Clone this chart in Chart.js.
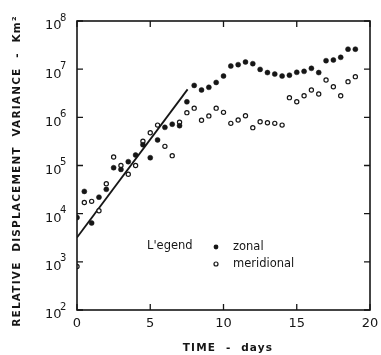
<!DOCTYPE html>
<html>
<head>
<meta charset="utf-8">
<script src="https://cdn.jsdelivr.net/npm/chart.js@4.4.1/dist/chart.umd.min.js"></script>
<style>
  html, body { margin: 0; padding: 0; background: #fff; }
  #wrap { width: 381px; height: 355px; position: relative; }
</style>
</head>
<body>
<div id="wrap"><canvas id="c" width="381" height="355"></canvas></div>
<script>
// Time in days and relative displacement variance (km^2)
const zonalDays = [0, 0.5, 1.0, 1.5, 2.0, 2.5, 3.0, 3.5, 4.0, 4.5, 5.0, 5.5, 6.0, 6.5, 7.0, 7.5,
  8.0, 8.5, 9.0, 9.5, 10.0, 10.5, 11.0, 11.5, 12.0, 12.5, 13.0, 13.5, 14.0, 14.5, 15.0, 15.5,
  16.0, 16.5, 17.0, 17.5, 18.0, 18.5, 19.0];
const zonalVariance = [8300, 29000, 6400, 22000, 32000, 90000, 83000, 120000, 165000, 270000,
  145000, 340000, 620000, 720000, 670000, 2.1e6, 4.6e6, 3.7e6, 4.2e6, 5.3e6, 7.2e6, 1.16e7,
  1.24e7, 1.41e7, 1.3e7, 9.9e6, 8.5e6, 7.9e6, 7.2e6, 7.5e6, 8.6e6, 9.0e6, 1.04e7, 8.5e6,
  1.5e7, 1.55e7, 1.76e7, 2.6e7, 2.6e7];

const meridionalDays = [0, 0.5, 1.0, 1.5, 2.0, 2.5, 3.0, 3.5, 4.0, 4.5, 5.0, 5.5, 6.0, 6.5, 7.0, 7.5,
  8.0, 8.5, 9.0, 9.5, 10.0, 10.5, 11.0, 11.5, 12.0, 12.5, 13.0, 13.5, 14.0, 14.5, 15.0, 15.5,
  16.0, 16.5, 17.0, 17.5, 18.0, 18.5, 19.0];
const meridionalVariance = [800, 17000, 18000, 11500, 42000, 150000, 100000, 66000, 100000, 320000,
  480000, 690000, 250000, 160000, 790000, 1.25e6, 1.55e6, 8.7e5, 1.07e6, 1.55e6, 1.27e6, 7.5e5,
  8.8e5, 1.08e6, 6.1e5, 8.1e5, 7.7e5, 7.5e5, 6.9e5, 2.56e6, 2.1e6, 2.8e6, 3.7e6, 3.05e6,
  5.95e6, 4.3e6, 2.8e6, 5.5e6, 7.0e6];

// Exponential growth fit over the first week
const fitDays = [0, 7.55];
const fitVariance = [3200, 3.8e6];

const xTicks = [0, 5, 10, 15, 20];
const yExponents = [2, 3, 4, 5, 6, 7, 8];
const seriesLabels = ['zonal', 'meridional'];
const legendHeading = "L'egend";
const xTitle = 'TIME  -  days';
const yTitle = 'RELATIVE  DISPLACEMENT  VARIANCE  -  Km²';

const toPoints = (xs, ys) => xs.map((x, i) => ({ x: x, y: ys[i] }));

const INK = '#161616';
const labelFont = '"DejaVu Sans", sans-serif';

// Frame, inward ticks, labels with superscripts, titles and legend
const decorations = {
  id: 'decorations',
  afterDraw(chart) {
    const { ctx, chartArea: a, scales: { x, y } } = chart;
    ctx.save();
    ctx.strokeStyle = INK;
    ctx.fillStyle = INK;
    ctx.lineWidth = 1.6;
    ctx.strokeRect(a.left, a.top, a.right - a.left, a.bottom - a.top);

    // tick marks pointing into the plot
    ctx.lineWidth = 1.3;
    ctx.beginPath();
    yExponents.forEach(e => {
      const py = y.getPixelForValue(Math.pow(10, e));
      ctx.moveTo(a.left, py); ctx.lineTo(a.left + 6, py);
      ctx.moveTo(a.right, py); ctx.lineTo(a.right - 6, py);
    });
    xTicks.forEach(t => {
      const px = x.getPixelForValue(t);
      ctx.moveTo(px, a.bottom); ctx.lineTo(px, a.bottom - 6);
      ctx.moveTo(px, a.top); ctx.lineTo(px, a.top + 6);
    });
    ctx.stroke();

    // y labels: 10 with exponent
    yExponents.forEach(e => {
      const py = y.getPixelForValue(Math.pow(10, e));
      ctx.font = '13px ' + labelFont;
      ctx.textAlign = 'left';
      ctx.textBaseline = 'middle';
      ctx.fillText('10', 45, py + 5);
      ctx.font = '10px ' + labelFont;
      ctx.fillText(String(e), 60, py - 3);
    });

    // x labels
    ctx.font = '13px ' + labelFont;
    ctx.textAlign = 'center';
    ctx.textBaseline = 'middle';
    xTicks.forEach(t => {
      ctx.fillText(String(t), x.getPixelForValue(t), 324);
    });

    // axis titles
    ctx.font = 'bold 10.5px ' + labelFont;
    ctx.letterSpacing = '1.2px';
    ctx.fillText(xTitle, 228, 348);
    ctx.save();
    ctx.translate(17, 171);
    ctx.rotate(-Math.PI / 2);
    ctx.font = 'bold 10.5px ' + labelFont;
    ctx.fillText(yTitle, 0, 0);
    ctx.restore();
    ctx.letterSpacing = '0px';

    // legend
    ctx.font = '11.5px ' + labelFont;
    ctx.textAlign = 'left';
    ctx.fillText(legendHeading, 147, 246);
    ctx.beginPath();
    ctx.arc(216, 247, 2.4, 0, Math.PI * 2);
    ctx.fill();
    ctx.beginPath();
    ctx.lineWidth = 1.2;
    ctx.fillStyle = '#fff';
    ctx.arc(216, 264, 2.0, 0, Math.PI * 2);
    ctx.fill();
    ctx.stroke();
    ctx.fillStyle = INK;
    ctx.fillText(seriesLabels[0], 233, 247);
    ctx.fillText(seriesLabels[1], 233, 264);
    ctx.restore();
  }
};

new Chart(document.getElementById('c'), {
  type: 'scatter',
  data: {
    datasets: [
      {
        label: 'fit',
        type: 'line',
        data: toPoints(fitDays, fitVariance),
        borderColor: INK,
        borderWidth: 1.8,
        pointRadius: 0,
        fill: false,
        order: 3
      },
      {
        label: seriesLabels[1],
        data: toPoints(meridionalDays, meridionalVariance),
        pointStyle: 'circle',
        pointRadius: 2.1,
        pointBorderWidth: 1.2,
        borderColor: INK,
        backgroundColor: '#ffffff',
        order: 2
      },
      {
        label: seriesLabels[0],
        data: toPoints(zonalDays, zonalVariance),
        pointStyle: 'circle',
        pointRadius: 2.5,
        pointBorderWidth: 0.5,
        borderColor: INK,
        backgroundColor: INK,
        order: 1
      }
    ]
  },
  options: {
    responsive: false,
    animation: false,
    layout: { padding: { left: 77, right: 11, top: 21, bottom: 45 } },
    plugins: { legend: { display: false }, tooltip: { enabled: false } },
    scales: {
      x: {
        type: 'linear', min: 0, max: 20,
        ticks: { display: false },
        grid: { display: false, drawTicks: false },
        border: { display: false }
      },
      y: {
        type: 'logarithmic', min: 100, max: 1e8,
        ticks: { display: false },
        grid: { display: false, drawTicks: false },
        border: { display: false }
      }
    }
  },
  plugins: [decorations]
});
</script>
</body>
</html>
